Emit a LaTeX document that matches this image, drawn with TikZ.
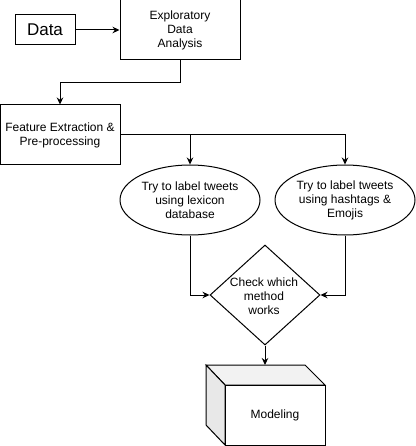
\documentclass[tikz,border=0pt]{standalone}
\usepackage{fontspec}
\setmainfont{Liberation Sans}
\usetikzlibrary{shapes.geometric,arrows.meta}
\begin{document}
\begin{tikzpicture}[x=1pt,y=-1pt,line width=1pt,
  txt/.style={font=\fontsize{12}{14}\selectfont,align=center,inner sep=0pt},
  box/.style={draw,rectangle,inner sep=0pt},
  ell/.style={draw,ellipse,inner sep=0pt,minimum width=140pt,minimum height=70pt,txt},
  arr/.style={-{Stealth[length=7pt,width=6.5pt]}}]
\useasboundingbox (0,0) rectangle (415,446);
% nodes
\node[box,minimum width=60pt,minimum height=30pt,font=\fontsize{17}{20}\selectfont] (data) at (45,30) {Data};
\node[box,minimum width=120pt,minimum height=60pt,txt] (eda) at (180,30) {Exploratory\\Data\\Analysis};
\node[box,minimum width=120pt,minimum height=60pt,txt] (feat) at (60,135) {Feature Extraction \&\\Pre-processing};
\node[ell] (e1) at (190,200) {Try to label tweets\\using lexicon\\database};
\node[ell] (e2) at (345,200) {Try to label tweets\\using hashtags \&\\Emojis};
\node[draw,diamond,inner sep=0pt,minimum width=110pt,minimum height=100pt] (d) at (265,295) {};
\node[txt] (dtext) at (264,296) {Check which\\method\\works};
% cube
\filldraw[fill=gray!10] (206,365) -- (305,365) -- (325,385) -- (225,385) -- cycle;
\filldraw[fill=gray!18] (206,365) -- (225,385) -- (225,445) -- (206,425) -- cycle;
\node[box,minimum width=100pt,minimum height=60pt,txt,fill=white] (model) at (275,415) {Modeling};
\coordinate (cubetop) at (265,365);
% connectors
\draw[arr] (data.east) -- (eda.west);
\draw[arr] (eda.south) -- ++(0,22) -| (feat.north);
\draw[arr] (feat.east) -| (e1.north);
\draw[arr] (feat.east) -| (e2.north);
\draw[arr] (e1.south) |- (d.west);
\draw[arr] (e2.south) |- (d.east);
\draw[arr] (d.south) -- (cubetop);
\end{tikzpicture}
\end{document}
